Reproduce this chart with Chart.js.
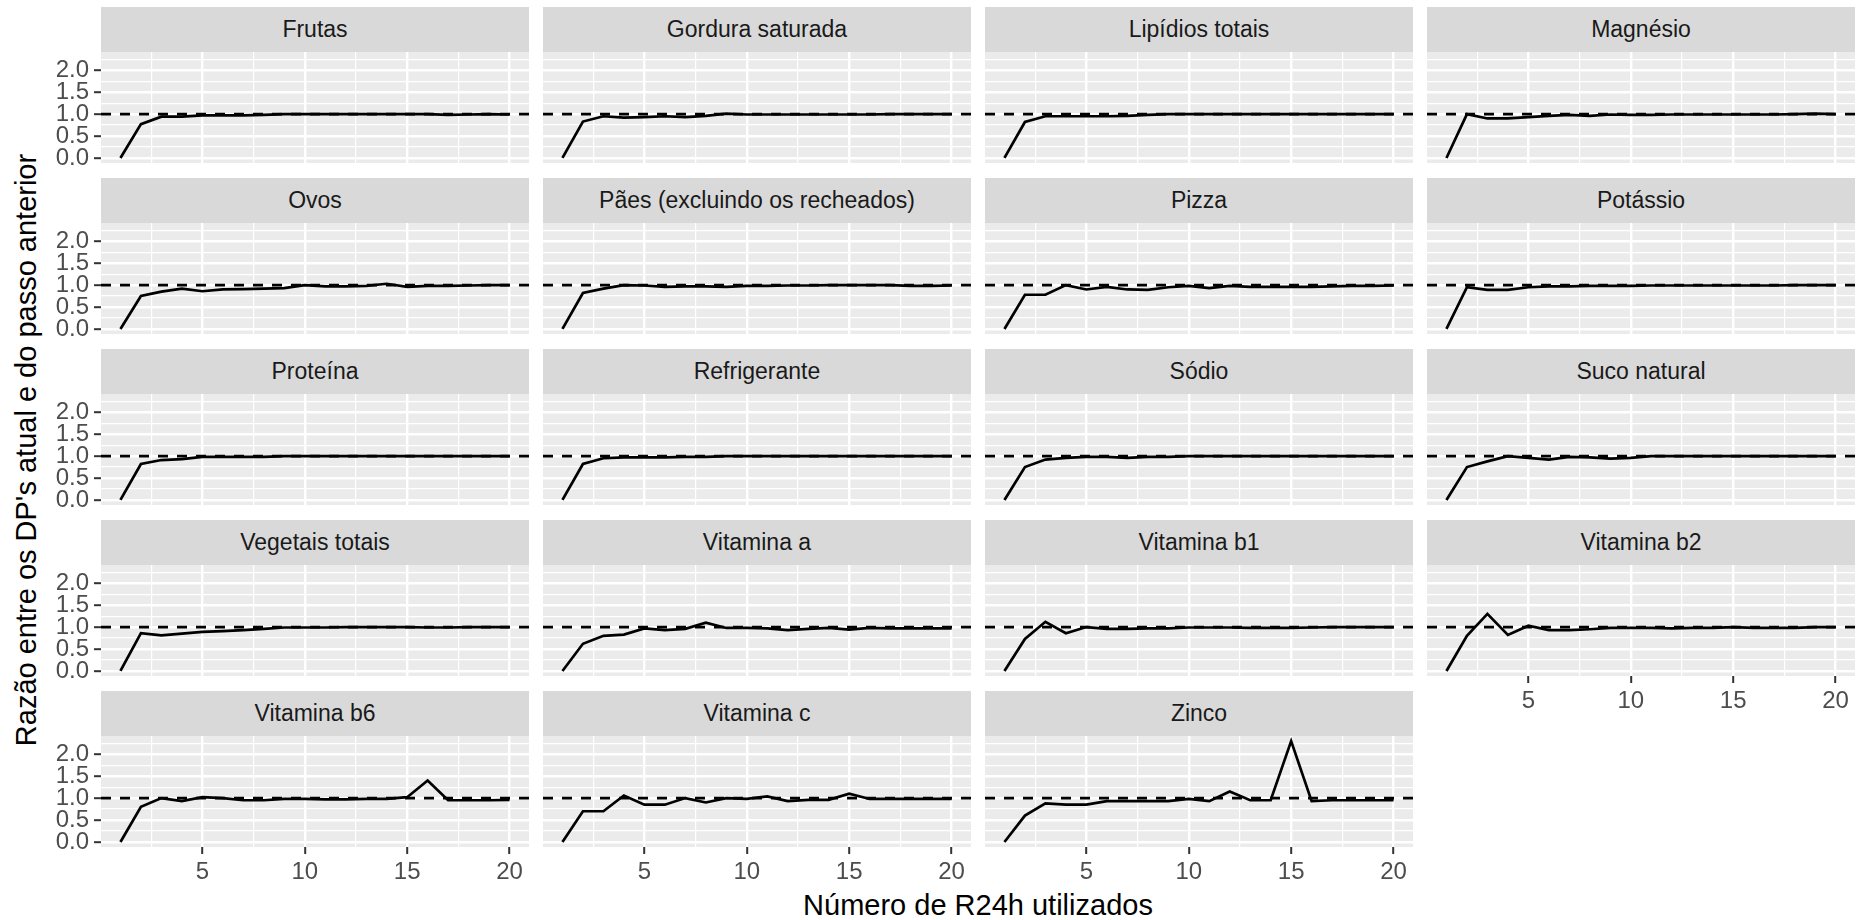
<!DOCTYPE html>
<html lang="pt-BR">
<head>
<meta charset="utf-8">
<title>Razão entre os DP's atual e do passo anterior</title>
<script src="https://cdn.jsdelivr.net/npm/chart.js@4.4.1/dist/chart.umd.min.js"></script>
<style>
  html, body { margin: 0; padding: 0; background: #fff; }
  body {
    width: 1865px; height: 920px; position: relative; overflow: hidden;
    font-family: "Liberation Sans", Arial, sans-serif;
  }
  canvas { position: absolute; }
  .strip {
    position: absolute; background: #D9D9D9; color: #1A1A1A;
    font-size: 23px; display: flex; align-items: center; justify-content: center;
    white-space: nowrap;
  }
  .axis-title {
    position: absolute; color: #000; font-size: 29px; white-space: nowrap;
  }
</style>
</head>
<body>
<div class="axis-title" id="ytitle">Razão entre os DP's atual e do passo anterior</div>
<div class="axis-title" id="xtitle">Número de R24h utilizados</div>
<script>
// --- data ---
const X_VALUES = [1, 2, 3, 4, 5, 6, 7, 8, 9, 10, 11, 12, 13, 14, 15, 16, 17, 18, 19, 20];

const frutas          = [0, 0.77, 0.94, 0.94, 0.97, 0.97, 0.97, 0.98, 1.00, 1.00, 1.00, 1.00, 1.00, 1.00, 1.00, 1.00, 0.98, 0.99, 1.00, 0.99];
const gorduraSaturada = [0, 0.83, 0.95, 0.92, 0.93, 0.95, 0.93, 0.96, 1.01, 0.99, 0.99, 0.99, 0.99, 0.99, 0.99, 0.99, 1.00, 1.00, 1.00, 1.00];
const lipidiosTotais  = [0, 0.82, 0.95, 0.95, 0.95, 0.95, 0.96, 0.98, 1.00, 1.00, 1.00, 1.00, 1.00, 1.00, 1.00, 1.00, 1.00, 1.00, 1.00, 1.00];
const magnesio        = [0, 1.00, 0.90, 0.90, 0.93, 0.96, 0.98, 0.96, 0.99, 0.98, 0.98, 0.99, 0.99, 0.99, 0.99, 0.99, 0.99, 1.00, 1.01, 1.00];
const ovos            = [0, 0.75, 0.85, 0.92, 0.86, 0.90, 0.91, 0.92, 0.93, 1.00, 0.97, 0.97, 0.98, 1.03, 0.96, 0.98, 0.98, 0.99, 1.00, 1.00];
const paes            = [0, 0.82, 0.92, 1.00, 0.99, 0.96, 0.97, 0.97, 0.96, 0.98, 0.98, 0.99, 0.99, 1.00, 1.00, 1.00, 1.00, 0.98, 0.98, 0.99];
const pizza           = [0, 0.78, 0.78, 1.00, 0.90, 0.96, 0.90, 0.89, 0.95, 0.98, 0.93, 0.98, 0.96, 0.96, 0.96, 0.96, 0.97, 0.98, 0.98, 0.99];
const potassio        = [0, 0.95, 0.89, 0.89, 0.95, 0.97, 0.97, 0.98, 0.98, 0.98, 0.99, 0.99, 0.99, 0.99, 0.99, 0.99, 0.99, 1.00, 1.00, 1.00];
const proteina        = [0, 0.82, 0.91, 0.93, 0.98, 0.98, 0.98, 0.98, 1.00, 1.00, 1.00, 1.00, 1.00, 1.00, 1.00, 1.00, 1.00, 1.00, 1.00, 1.00];
const refrigerante    = [0, 0.82, 0.95, 0.97, 0.97, 0.97, 0.98, 0.98, 1.00, 1.00, 1.00, 1.00, 1.00, 1.00, 1.00, 1.00, 1.00, 1.00, 1.00, 1.00];
const sodio           = [0, 0.75, 0.92, 0.96, 0.98, 0.98, 0.96, 0.98, 0.98, 1.00, 1.00, 1.00, 1.00, 1.00, 1.00, 1.00, 1.00, 1.00, 1.00, 1.00];
const sucoNatural     = [0, 0.75, 0.88, 1.00, 0.96, 0.92, 0.98, 0.97, 0.94, 0.96, 1.00, 1.00, 1.00, 1.00, 1.00, 1.00, 1.00, 1.00, 1.00, 1.00];
const vegetaisTotais  = [0, 0.86, 0.81, 0.85, 0.89, 0.91, 0.93, 0.96, 0.99, 0.99, 0.99, 1.00, 1.00, 1.00, 1.00, 0.99, 0.99, 1.00, 1.00, 1.00];
const vitaminaA       = [0, 0.62, 0.80, 0.83, 0.97, 0.93, 0.96, 1.10, 0.98, 0.98, 0.97, 0.93, 0.96, 0.98, 0.94, 0.98, 0.97, 0.97, 0.97, 0.97];
const vitaminaB1      = [0, 0.73, 1.12, 0.86, 1.00, 0.96, 0.96, 0.97, 0.97, 0.99, 0.99, 0.99, 0.98, 0.98, 0.98, 0.99, 1.00, 1.00, 1.00, 1.00];
const vitaminaB2      = [0, 0.80, 1.30, 0.82, 1.03, 0.93, 0.93, 0.95, 0.98, 0.98, 0.98, 0.97, 0.98, 0.98, 1.00, 0.98, 0.98, 0.98, 1.00, 1.00];
const vitaminaB6      = [0, 0.80, 1.00, 0.93, 1.02, 1.00, 0.95, 0.95, 0.98, 0.98, 0.97, 0.97, 0.98, 0.98, 1.02, 1.40, 0.95, 0.95, 0.95, 0.96];
const vitaminaC       = [0, 0.70, 0.70, 1.06, 0.85, 0.85, 1.00, 0.90, 1.00, 0.98, 1.04, 0.93, 0.96, 0.96, 1.10, 0.98, 0.98, 0.98, 0.98, 0.98];
const zinco           = [0, 0.60, 0.88, 0.85, 0.85, 0.93, 0.93, 0.93, 0.93, 0.98, 0.93, 1.15, 0.95, 0.95, 2.30, 0.93, 0.95, 0.95, 0.95, 0.95];

const PANEL_NAMES = [
  "Frutas", "Gordura saturada", "Lipídios totais", "Magnésio",
  "Ovos", "Pães (excluindo os recheados)", "Pizza", "Potássio",
  "Proteína", "Refrigerante", "Sódio", "Suco natural",
  "Vegetais totais", "Vitamina a", "Vitamina b1", "Vitamina b2",
  "Vitamina b6", "Vitamina c", "Zinco"
];
const PANEL_SERIES = [
  frutas, gorduraSaturada, lipidiosTotais, magnesio,
  ovos, paes, pizza, potassio,
  proteina, refrigerante, sodio, sucoNatural,
  vegetaisTotais, vitaminaA, vitaminaB1, vitaminaB2,
  vitaminaB6, vitaminaC, zinco
];

const X_MAJOR = [5, 10, 15, 20];
const X_MINOR = [2.5, 7.5, 12.5, 17.5];
const Y_MAJOR = [0, 0.5, 1, 1.5, 2];
const Y_MINOR = [0.25, 0.75, 1.25, 1.75, 2.25];
const X_RANGE = [0.05, 20.95];
const Y_RANGE = [-0.115, 2.415];
const REF_VALUE = 1;

// --- layout ---
const NCOL = 4;
const GRID_LEFT = 101, GRID_TOP = 7;
const PANEL_W = 428, PLOT_H = 111, STRIP_H = 45;
const GAP_X = 14, GAP_Y = 15;
const PAD = 18;
const Y_AXIS_W = 52, X_AXIS_H = 40;
const TICK_LEN = 7;
const TICK_FONT = 24;
const BOTTOM_PANELS = [15, 16, 17, 18];

const PANEL_BG = "#EBEBEB";
const FONT = "'Liberation Sans', Arial, sans-serif";

Chart.defaults.font.family = FONT;

const panelBackground = {
  id: "panelBackground",
  beforeDraw(chart) {
    const { ctx, chartArea: a } = chart;
    ctx.save();
    ctx.fillStyle = PANEL_BG;
    ctx.fillRect(a.left, a.top, a.width, a.height);
    ctx.restore();
  }
};

// linha tracejada em y = 1 (geom_hline)
const refLine = {
  id: "refLine",
  afterDatasetsDraw(chart) {
    const { ctx, chartArea: a } = chart;
    const y = chart.scales.y.getPixelForValue(REF_VALUE);
    ctx.save();
    ctx.beginPath();
    ctx.setLineDash([10, 9]);
    ctx.lineWidth = 2.7;
    ctx.strokeStyle = "#000";
    ctx.moveTo(a.left, y);
    ctx.lineTo(a.right, y);
    ctx.stroke();
    ctx.restore();
  }
};

const sorted = (a, b) => a.concat(b).sort((p, q) => p - q);

function makePanel(i) {
  const row = Math.floor(i / NCOL);
  const col = i % NCOL;
  const plotLeft = GRID_LEFT + col * (PANEL_W + GAP_X);
  const stripTop = GRID_TOP + row * (STRIP_H + PLOT_H + GAP_Y);
  const plotTop = stripTop + STRIP_H;
  const showY = col === 0;
  const showX = BOTTOM_PANELS.includes(i);
  const yW = showY ? Y_AXIS_W : 0;
  const xH = showX ? X_AXIS_H : 0;

  const strip = document.createElement("div");
  strip.className = "strip";
  strip.style.left = plotLeft + "px";
  strip.style.top = stripTop + "px";
  strip.style.width = PANEL_W + "px";
  strip.style.height = STRIP_H + "px";
  strip.textContent = PANEL_NAMES[i];
  document.body.appendChild(strip);

  const canvas = document.createElement("canvas");
  const w = PAD + yW + PANEL_W + PAD;
  const h = PAD + PLOT_H + xH + PAD;
  canvas.width = w;
  canvas.height = h;
  canvas.style.width = w + "px";
  canvas.style.height = h + "px";
  canvas.style.left = (plotLeft - yW - PAD) + "px";
  canvas.style.top = (plotTop - PAD) + "px";
  document.body.appendChild(canvas);

  const series = PANEL_SERIES[i];

  return new Chart(canvas.getContext("2d"), {
    type: "line",
    data: {
      datasets: [{
        data: X_VALUES.map((x, k) => ({ x: x, y: series[k] })),
        borderColor: "#000",
        borderWidth: 2.7,
        pointRadius: 0,
        tension: 0,
        fill: false
      }]
    },
    options: {
      responsive: false,
      animation: false,
      devicePixelRatio: 1,
      events: [],
      layout: { padding: PAD },
      plugins: { legend: { display: false }, tooltip: { enabled: false } },
      scales: {
        x: {
          type: "linear",
          min: X_RANGE[0],
          max: X_RANGE[1],
          border: { display: false },
          afterBuildTicks(scale) {
            scale.ticks = sorted(X_MAJOR, X_MINOR).map(v => ({ value: v }));
          },
          afterFit(scale) {
            scale.height = xH;
            scale.paddingLeft = 0;
            scale.paddingRight = 0;
          },
          grid: {
            color: "#FFFFFF",
            lineWidth: ctx => X_MAJOR.includes(ctx.tick.value) ? 2.4 : 1.2,
            drawTicks: showX,
            tickLength: TICK_LEN,
            tickWidth: 2,
            tickColor: ctx => X_MAJOR.includes(ctx.tick.value) ? "#333333" : "rgba(0,0,0,0)"
          },
          ticks: {
            display: showX,
            autoSkip: false,
            maxRotation: 0,
            minRotation: 0,
            padding: 4,
            color: "#4D4D4D",
            font: { size: TICK_FONT },
            callback: v => X_MAJOR.includes(v) ? String(v) : ""
          }
        },
        y: {
          type: "linear",
          min: Y_RANGE[0],
          max: Y_RANGE[1],
          border: { display: false },
          afterBuildTicks(scale) {
            scale.ticks = sorted(Y_MAJOR, Y_MINOR).map(v => ({ value: v }));
          },
          afterFit(scale) {
            scale.width = yW;
            scale.paddingTop = 0;
            scale.paddingBottom = 0;
          },
          grid: {
            color: "#FFFFFF",
            lineWidth: ctx => Y_MAJOR.includes(ctx.tick.value) ? 2.4 : 1.2,
            drawTicks: showY,
            tickLength: TICK_LEN,
            tickWidth: 2,
            tickColor: ctx => Y_MAJOR.includes(ctx.tick.value) ? "#333333" : "rgba(0,0,0,0)"
          },
          ticks: {
            display: showY,
            autoSkip: false,
            padding: 5,
            color: "#4D4D4D",
            font: { size: TICK_FONT },
            callback: v => Y_MAJOR.includes(v) ? v.toFixed(1) : ""
          }
        }
      }
    },
    plugins: [panelBackground, refLine]
  });
}

PANEL_NAMES.forEach((name, i) => makePanel(i));

// titulos dos eixos
const lastRow = Math.floor((PANEL_NAMES.length - 1) / NCOL);
const gridBottom = GRID_TOP + lastRow * (STRIP_H + PLOT_H + GAP_Y) + STRIP_H + PLOT_H;
const gridRight = GRID_LEFT + NCOL * PANEL_W + (NCOL - 1) * GAP_X;

const yTitle = document.getElementById("ytitle");
yTitle.style.left = "26px";
yTitle.style.top = "450px";
yTitle.style.transform = "translate(-50%, -50%) rotate(-90deg)";

const xTitle = document.getElementById("xtitle");
xTitle.style.left = ((GRID_LEFT + gridRight) / 2) + "px";
xTitle.style.top = (gridBottom + 58) + "px";
xTitle.style.transform = "translate(-50%, -50%)";
</script>
</body>
</html>
